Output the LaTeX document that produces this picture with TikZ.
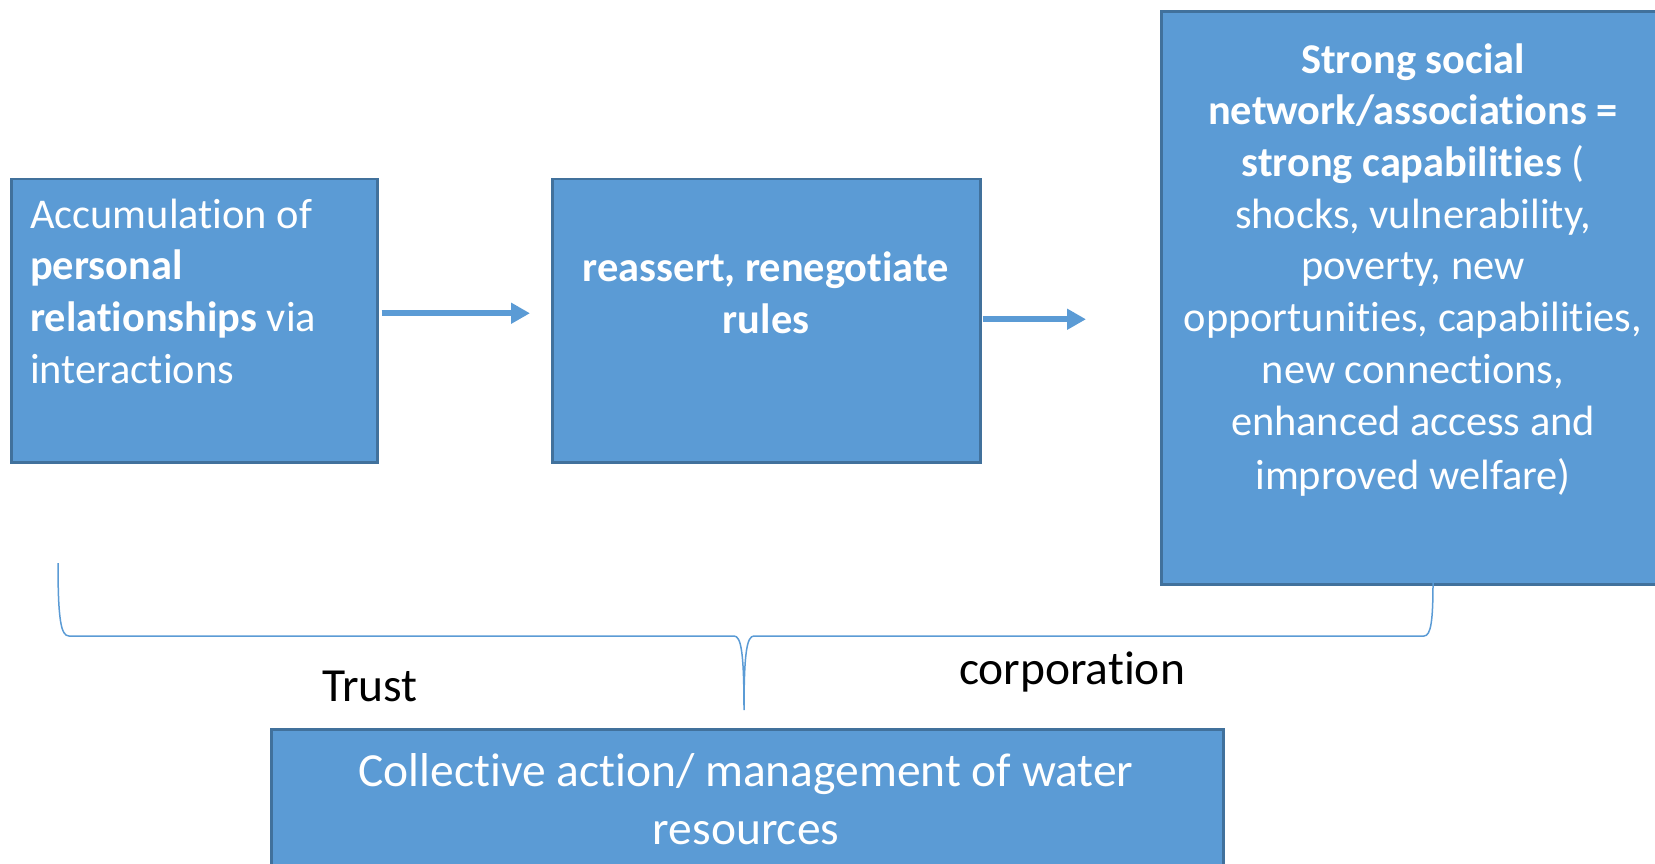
\documentclass[tikz,border=0pt]{standalone}
\usepackage{fontspec}
\setmainfont{Carlito}[Ligatures=NoCommon, Contextuals=NoAlternate]
\usetikzlibrary{arrows.meta}
\definecolor{boxfill}{HTML}{5B9BD5}
\definecolor{boxline}{HTML}{41719C}
\newcommand\boxfont{\fontsize{42.4}{51.7}\selectfont}
\newcommand\bigfont{\fontsize{47.5}{58}\selectfont}
\newcommand\tI{t\kern0pt i}
\begin{document}
\begin{tikzpicture}[x=1pt,y=-1pt,
  box/.style={draw=boxline, fill=boxfill, line width=2.5pt, inner sep=0pt, anchor=north west},
  boxtext/.style={text=white, inner sep=0pt, font=\boxfont},
  flow/.style={draw=boxfill, line width=6pt, -{Triangle[length=19pt, width=20pt]}},
  brace/.style={draw=boxfill, line width=1.5pt},
  label/.style={text=black, inner sep=0pt, font=\bigfont}]
\useasboundingbox (0,0) rectangle (1655,864);
\clip (0,0) rectangle (1655,864);
% boxes
\node[box, minimum width=366pt, minimum height=283pt] (b1) at (10,178) {};
\node[box, minimum width=428pt, minimum height=283pt] (b2) at (551,178) {};
\node[box, minimum width=530pt, minimum height=572.5pt] (b3) at (1160,10.5) {};
\node[box, minimum width=952pt, minimum height=170pt] (b4) at (270,728) {};
% texts
\node[boxtext, align=left, anchor=west] (t1) at (30,291) {Accumula\tI on of\\ \textbf{personal}\\ \textbf{rela\tI onships} via\\ interac\tI ons};
\node[boxtext, align=center] (t2) at (766,292.5) {\textbf{reassert, renego\tI ate}\\ \textbf{rules}};
\node[boxtext, align=center] (t3) at (1413,270) {\textbf{Strong social}\\ \textbf{network/associa\tI ons =}\\ \textbf{strong capabili\tI es} (\\ shocks, vulnerability,\\ poverty, new\\ opportuni\tI es, capabili\tI es,\\ new connec\tI ons,\\ enhanced access and\\[3pt] improved welfare)};
\node[boxtext, align=center, font=\bigfont] (t4) at (746,799) {Collec\tI ve ac\tI on/ management of water\\ resources};
% arrows
\draw[flow, shorten <=3pt, shorten >=21pt] ([yshift=7.5pt]b1.east) -- ([yshift=7.5pt]b1.east -| b2.west);
\draw[flow, shorten <=1pt, shorten >=74pt] ([yshift=1.5pt]b2.east) -- ([yshift=1.5pt]b2.east -| b3.west);
% brace
\coordinate (bl) at (58,563);
\coordinate (bm) at (744,710);
\coordinate (br) at (1433,583);
\draw[brace] (bl) .. controls (58,620) and (61,636) .. (69,636) -- (734,636)
  .. controls (741,636) and (744,652) .. (bm)
  .. controls (744,652) and (747,636) .. (754,636) -- (1424,636)
  .. controls (1431,636) and (1433,620) .. (br);
% labels
\node[label] (trust) at (370,686) {Trust};
\node[label] (corp) at (1072,672) {corpora\tI on};
\end{tikzpicture}
\end{document}
